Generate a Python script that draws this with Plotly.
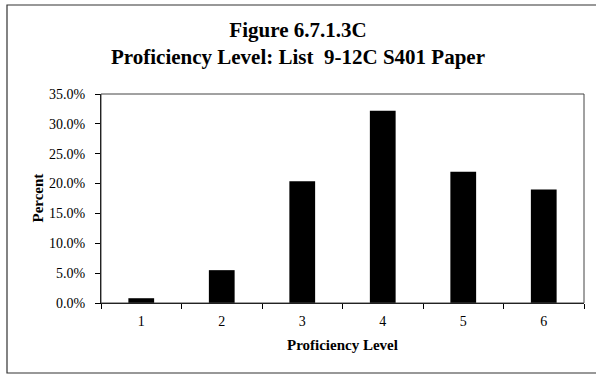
import plotly.graph_objects as go

levels = ["1", "2", "3", "4", "5", "6"]
percents = [0.8, 5.5, 20.4, 32.2, 22.0, 19.0]
y_ticks = [0, 5, 10, 15, 20, 25, 30, 35]
y_tick_labels = [f"{v:.1f}%" for v in y_ticks]

serif = "Liberation Serif, Times New Roman, serif"

# plot area in pixels
W, H = 596, 375
L, R, T, B = 101, 12, 94, 72
pw, ph = W - L - R, H - T - B


def px_x(x):
    return (x - L) / pw


def px_y(y):
    return (H - B - y) / ph


fig = go.Figure(
    go.Bar(
        x=levels,
        y=percents,
        width=0.32,
        marker={"color": "black", "line": {"width": 0}},
    )
)

fig.update_layout(
    width=W,
    height=H,
    margin={"l": L, "r": R, "t": T, "b": B},
    paper_bgcolor="white",
    plot_bgcolor="white",
    showlegend=False,
    font={"family": serif, "size": 14, "color": "black"},
    title={
        "text": "<b>Figure 6.7.1.3C<br>Proficiency Level: List  9-12C S401 Paper</b>",
        "x": 0.5,
        "xanchor": "center",
        "xref": "container",
        "y": 1 - 37 / H,
        "yref": "container",
        "yanchor": "top",
        "font": {"family": serif, "size": 21, "color": "black"},
    },
    xaxis={
        "type": "category",
        "showline": True,
        "linecolor": "black",
        "linewidth": 1,
        "ticks": "outside",
        "tickson": "boundaries",
        "ticklen": 5,
        "tickcolor": "black",
        "ticklabelstandoff": 5,
        "showgrid": False,
        "tickfont": {"size": 14},
    },
    yaxis={
        "range": [0, 35],
        "tickvals": y_ticks,
        "ticktext": y_tick_labels,
        "showline": True,
        "linecolor": "black",
        "linewidth": 1,
        "ticks": "outside",
        "ticklen": 5,
        "tickcolor": "black",
        "ticklabelstandoff": 7,
        "showgrid": False,
        "zeroline": False,
        "tickfont": {"size": 14},
    },
    shapes=[
        # plot area border (top / right)
        {
            "type": "rect", "xref": "paper", "yref": "paper",
            "x0": 0, "x1": 1, "y0": 0, "y1": 1,
            "line": {"color": "#444444", "width": 1},
        },
        # outer chart frame
        {
            "type": "rect", "xref": "paper", "yref": "paper",
            "x0": px_x(7), "x1": px_x(605), "y0": px_y(373), "y1": px_y(5),
            "line": {"color": "#333333", "width": 1.2},
        },
    ],
    annotations=[
        {
            "text": "<b>Percent</b>", "xref": "paper", "yref": "paper",
            "x": px_x(37), "y": 0.5, "textangle": -90, "showarrow": False,
            "xanchor": "center", "yanchor": "middle",
            "font": {"family": serif, "size": 15},
        },
        {
            "text": "<b>Proficiency Level</b>", "xref": "paper", "yref": "paper",
            "x": 0.5, "y": px_y(345), "showarrow": False,
            "xanchor": "center", "yanchor": "middle",
            "font": {"family": serif, "size": 15},
        },
    ],
)

fig.write_html(
    "out.html",
    config={"displayModeBar": False},
    post_script="document.body.style.margin='0';",
)
